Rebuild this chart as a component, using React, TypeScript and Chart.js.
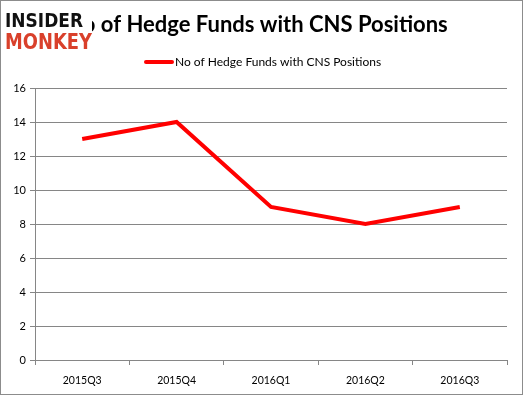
import React, { useEffect, useRef } from "react";
import { Chart, registerables } from "chart.js";

Chart.register(...registerables);

const categories = ["2015Q3", "2015Q4", "2016Q1", "2016Q2", "2016Q3"];
const hedgeFunds = [13, 14, 9, 8, 9];
const seriesLabel = "No of Hedge Funds with CNS Positions";
const titleText = "No of Hedge Funds with CNS Positions";

const W = 523;
const H = 395;

const decorPlugin = {
  id: "decor",
  afterDraw(chart: any) {
    const ctx = chart.ctx as CanvasRenderingContext2D;
    ctx.save();
    // title
    ctx.fillStyle = "#000";
    ctx.font = "bold 22px Lato";
    ctx.textAlign = "center";
    ctx.textBaseline = "middle";
    ctx.fillText(titleText, 257, 25);
    // logo
    ctx.fillStyle = "#fff";
    ctx.fillRect(4, 8, 88, 44);
    ctx.textAlign = "left";
    ctx.textBaseline = "alphabetic";
    ctx.fillStyle = "#111";
    ctx.font = "900 19px 'DejaVu Sans'";
    ctx.fillText("INSIDER", 5, 27, 78);
    ctx.fillStyle = "#d9402b";
    ctx.font = "900 21px 'DejaVu Sans'";
    ctx.fillText("MONKEY", 5, 49, 87);
    // legend
    ctx.strokeStyle = "#ff0000";
    ctx.lineWidth = 4;
    ctx.lineCap = "round";
    ctx.beginPath();
    ctx.moveTo(146, 62);
    ctx.lineTo(172, 62);
    ctx.stroke();
    ctx.fillStyle = "#000";
    ctx.font = "12px Lato";
    ctx.textBaseline = "middle";
    ctx.fillText(seriesLabel, 175, 62);
    // border
    ctx.strokeStyle = "#8c8c8c";
    ctx.lineWidth = 1;
    ctx.strokeRect(0.5, 0.5, W - 1, H - 1);
    ctx.restore();
  },
};

export default function App() {
  const ref = useRef<HTMLCanvasElement>(null);
  useEffect(() => {
    document.body.style.margin = "0";
    const chart = new Chart(ref.current!, {
      type: "line",
      data: {
        labels: categories,
        datasets: [
          {
            label: seriesLabel,
            data: hedgeFunds,
            borderColor: "#ff0000",
            backgroundColor: "#ff0000",
            borderWidth: 4,
            pointRadius: 0,
            tension: 0,
          },
        ],
      },
      options: {
        animation: false,
        responsive: false,
        layout: { padding: { top: 88, left: 0, right: 16, bottom: 0 } },
        plugins: {
          legend: { display: false },
          title: { display: false },
          tooltip: { enabled: false },
        },
        scales: {
          x: {
            offset: true,
            afterFit(scale: any) {
              scale.height = 35;
            },
            grid: {
              offset: true,
              drawOnChartArea: false,
              tickLength: 5,
              color: "#868686",
            },
            border: { color: "#868686" },
            ticks: {
              color: "#000",
              font: { family: "Lato", size: 10.5 },
              padding: 9,
              maxRotation: 0,
            },
          },
          y: {
            min: 0,
            max: 16,
            afterFit(scale: any) {
              scale.width = 35;
            },
            ticks: {
              stepSize: 2,
              color: "#000",
              font: { family: "Lato", size: 11 },
              padding: 4,
            },
            grid: { color: "#868686", tickLength: 5 },
            border: { color: "#868686" },
          },
        },
      },
      plugins: [decorPlugin],
    });
    return () => chart.destroy();
  }, []);
  return <canvas ref={ref} width={W} height={H} style={{ display: "block" }} />;
}
